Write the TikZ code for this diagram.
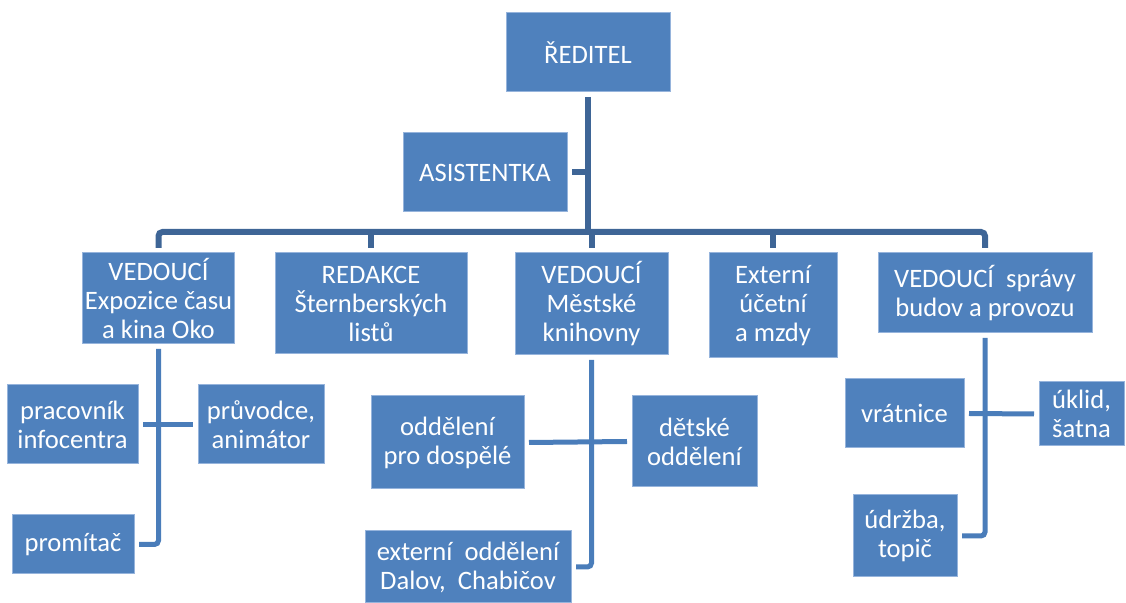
\documentclass[tikz,border=0pt]{standalone}
\usepackage{fontspec}
\setmainfont{Carlito}
\usetikzlibrary{positioning, calc}

\definecolor{boxblue}{RGB}{79,129,189}
\definecolor{boxedge}{RGB}{150,180,220}
\definecolor{busblue}{RGB}{62,101,150}
\definecolor{linkblue}{RGB}{74,125,186}

\begin{document}
\begin{tikzpicture}[
        x=0.5pt, y=-0.5pt,
        % --- STYLY ---
        % 1. Boxy organizace: modrá výplň, bílé písmo
        unit/.style={
                draw=boxedge,
                line width=0.5pt,
                fill=boxblue,
                text=white,
                align=center,
                inner sep=1pt,
                outer sep=2.5pt,
                font=\fontsize{13.3}{14.5}\selectfont
            },
        % 2. Hlavní sběrnice pod ředitelem
        busline/.style={
                draw=busblue,
                line width=3pt,
                rounded corners=2pt
            },
        % 3. Spoje k podřízeným
        subline/.style={
                draw=linkblue,
                line width=2.5pt,
                rounded corners=2pt
            }
    ]
    \useasboundingbox (0,0) rectangle (1126,603);

    % 1. Vedení
    \node[unit, minimum width=82pt, minimum height=39.5pt] (reditel) at (588,52.5) {ŘEDITEL};
    \node[unit, minimum width=82pt, minimum height=39.5pt] (asist) at (485,172.5) {ASISTENTKA};

    % 2. Vedoucí a útvary
    \node[unit, minimum width=75.5pt, minimum height=45.5pt] (expo) at (158.5,298.5) {VEDOUCÍ\\Expozice času\\a kina Oko};
    \node[unit, minimum width=96pt, minimum height=50.5pt] (redakce) at (371,303.5) {REDAKCE\\Šternberských\\listů};
    \node[unit, minimum width=76.5pt, minimum height=51pt] (knihovna) at (591.5,304) {VEDOUCÍ\\Městské\\knihovny};
    \node[unit, minimum width=64pt, minimum height=52.5pt] (ucetni) at (773,305.5) {Externí\\účetní\\a mzdy};
    \node[unit, minimum width=107pt, minimum height=40pt] (sprava) at (985,293) {VEDOUCÍ~ správy\\budov a provozu};

    % 3. Podřízení
    \node[unit, minimum width=65.5pt, minimum height=39.5pt] (infocentrum) at (72.5,424.5) {pracovník\\infocentra};
    \node[unit, minimum width=63pt, minimum height=39.5pt] (pruvodce) at (261,424.5) {průvodce,\\animátor};
    \node[unit, minimum width=61pt, minimum height=29.5pt] (promitac) at (73,544.5) {promítač};
    \node[unit, minimum width=76.5pt, minimum height=46.5pt] (dospeli) at (447.5,442.5) {oddělení\\pro dospělé};
    \node[unit, minimum width=62.5pt, minimum height=45.5pt] (detske) at (694.5,441.5) {dětské\\oddělení};
    \node[unit, minimum width=103pt, minimum height=36pt] (pobocky) at (468,567) {externí~ oddělení\\Dalov,~ Chabičov};
    \node[unit, minimum width=59.5pt, minimum height=34.5pt] (vratnice) at (904.5,413.5) {vrátnice};
    \node[unit, minimum width=42.5pt, minimum height=32pt] (uklid) at (1081.5,414) {úklid,\\šatna};
    \node[unit, minimum width=52pt, minimum height=41pt] (udrzba) at (905,536) {údržba,\\topič};

    % 4. Sběrnice
    \coordinate (bus) at (reditel.south |- 0,232);
    \draw[busline] (reditel.south) -- (bus);
    \draw[busline] (asist.east) -- (asist.east -| reditel.south);
    \draw[busline] (expo.north) |- (bus) -| (sprava.north);
    \foreach \n in {redakce, knihovna, ucetni}
        \draw[busline] (\n.north) -- (\n.north |- bus);

    % 5. Spoje pod vedoucími
    \draw[subline] (expo.south) |- (promitac.east);
    \draw[subline] (infocentrum.east) -- (pruvodce.west);
    \draw[subline] (knihovna.south) |- (pobocky.east);
    \draw[subline] (dospeli.east) -- (detske.west);
    \draw[subline] (sprava.south) |- (udrzba.east);
    \draw[subline] (vratnice.east) -- (uklid.west);

\end{tikzpicture}
\end{document}
